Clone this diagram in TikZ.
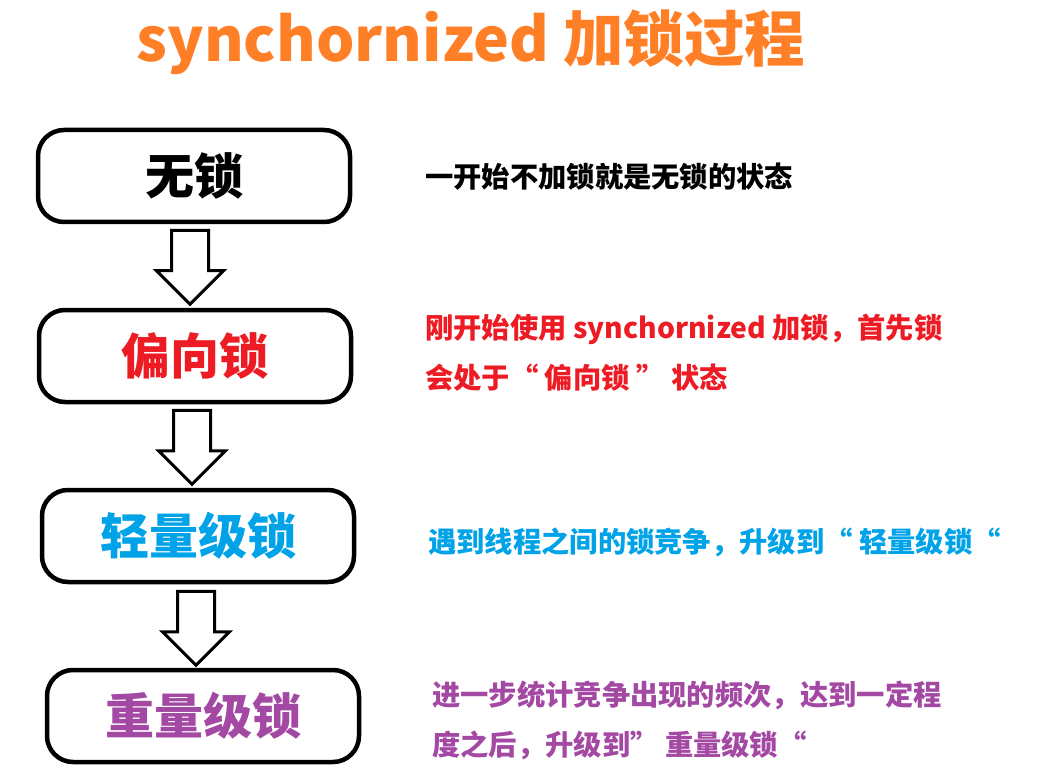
\documentclass[tikz,border=0pt]{standalone}
\usepackage{fontspec}
\setmainfont{Noto Sans CJK SC}
\usetikzlibrary{shapes.arrows}

\definecolor{titleorange}{HTML}{FF7F27}
\definecolor{biasred}{HTML}{ED1C24}
\definecolor{lightblue}{HTML}{00A2E8}
\definecolor{heavypurple}{HTML}{A349A4}

\begin{document}
\begin{tikzpicture}[x=1pt,y=-1pt]
        \tikzstyle{lockbox} = [draw, line width=4.5pt, rounded corners=26pt, minimum width=312pt, minimum height=92pt, font=\fontsize{49}{52}\selectfont\bfseries]
        \tikzstyle{downarrow} = [draw, line width=3pt, single arrow, single arrow head extend=15pt, minimum height=74pt, minimum width=66pt, inner xsep=0pt, inner ysep=17pt, rotate=-90]
        \tikzstyle{note} = [anchor=west, align=left, inner sep=0pt, font=\fontsize{28.3}{50}\selectfont\bfseries]
        \fill[white] (0,0) rectangle (1037,765);
        \useasboundingbox (0,0) rectangle (1037,765);
        \node[titleorange, font=\fontsize{60.5}{64}\selectfont\bfseries] (title) at (471,42) {synchornized 加锁过程};
        % the four lock states
        \node[lockbox] (nolock) at (194,176) {无锁};
        \node[lockbox, text=biasred] (biased) at (195,356) {偏向锁};
        \node[lockbox, text=lightblue] (light) at (198,536) {轻量级锁};
        \node[lockbox, text=heavypurple] (heavy) at (203,716) {重量级锁};
        % arrows between them
        \node[downarrow] (a1) at (190,258) {};
        \node[downarrow] (a2) at (192,438) {};
        \node[downarrow] (a3) at (196,619) {};
        % explanations
        \node[note] (n1) at (425,177) {一开始不加锁就是无锁的状态};
        \node[note, biasred] (n2) at (425,353) {刚开始使用 synchornized 加锁，首先锁\\会处于“ 偏向锁 ” 状态};
        \node[note, lightblue] (n3) at (428,542) {遇到线程之间的锁竞争，升级到“ 轻量级锁“};
        \node[note, heavypurple] (n4) at (432,720) {进一步统计竞争出现的频次，达到一定程\\度之后，升级到” 重量级锁“};
    \end{tikzpicture}
\end{document}
